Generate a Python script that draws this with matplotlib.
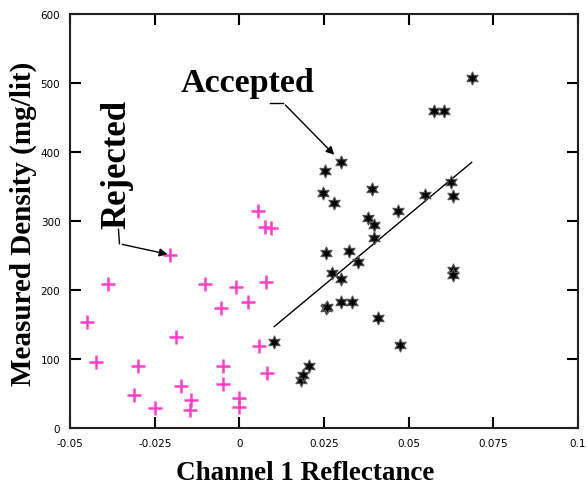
import matplotlib.pyplot as plt

# rejected samples (pink +)
rej_x = [-0.0449, -0.0423, -0.0387, -0.0299, -0.0312, -0.0248, -0.0187, -0.0171, -0.0143,
         -0.0145, -0.0204, -0.0102, -0.0053, -0.0048, -0.0048, -0.0010, 0.0026, 0.0000,
         0.0000, 0.0057, 0.0082, 0.0080, 0.0055, 0.0075, 0.0093]
rej_y = [153, 95, 209, 90, 48, 29, 132, 61, 40, 26, 251, 209, 174, 90, 64, 204, 182, 43,
         31, 119, 79, 211, 314, 292, 290]

# accepted samples (black stars)
acc_x = [0.0101, 0.0182, 0.0188, 0.0206, 0.0256, 0.0323, 0.0350, 0.0275, 0.0301, 0.0256,
         0.0258, 0.0301, 0.0332, 0.0408, 0.0473, 0.0632, 0.0632, 0.0399, 0.0688, 0.0575,
         0.0603, 0.0301, 0.0254, 0.0247, 0.0280, 0.0391, 0.0467, 0.0549, 0.0624, 0.0632,
         0.0381, 0.0398]
acc_y = [124, 70, 77, 90, 254, 256, 240, 224, 216, 174, 175, 182, 182, 159, 121, 229, 222,
         275, 507, 459, 459, 386, 373, 341, 326, 346, 315, 338, 357, 336, 304, 294]

# fitted line
fit_x = [0.0103, 0.0686]
fit_y = [147, 385]

serif = 'Liberation Serif'

fig = plt.figure(figsize=(5.87, 4.89), dpi=100)
ax = fig.add_axes([0.1193, 0.1227, 0.8654, 0.8466])

ax.scatter(rej_x, rej_y, marker='+', s=90, color='#ff3fc8', linewidths=1.8, zorder=3)
ax.scatter(acc_x, acc_y, marker=(6, 1, 0), s=85, color='black', edgecolors='#555555',
           linewidths=0.9, zorder=3)
ax.plot(fit_x, fit_y, color='black', lw=1.0, zorder=2)

ax.set_xlim(-0.05, 0.1)
ax.set_ylim(0, 600)
ax.set_xticks([-0.05, -0.025, 0, 0.025, 0.05, 0.075, 0.1])
ax.set_xticklabels(['-0.05', '-0.025', '0', '0.025', '0.05', '0.075', '0.1'])
ax.set_yticks([0, 100, 200, 300, 400, 500, 600])
ax.tick_params(direction='in', length=8, width=1.5, top=True, right=True,
               labelsize=7.5, pad=7)
for s in ax.spines.values():
    s.set_linewidth(1.5)
    s.set_color('#222222')

ax.set_xlabel('Channel 1 Reflectance', fontfamily=serif, fontweight='bold', fontsize=19.5)
ax.xaxis.label.set(ha='center', va='baseline')
ax.xaxis.set_label_coords(0.4626, -0.123)
ax.set_ylabel('Measured Density (mg/lit)', fontfamily=serif, fontweight='bold', fontsize=21)
ax.yaxis.label.set(ha='center', va='center')
ax.yaxis.set_label_coords(-0.0925, 0.496)

# annotations
ax.text(0.0025, 488, 'Accepted', fontfamily=serif, fontweight='bold', fontsize=24.5,
        ha='center', va='baseline')
ax.plot([0.0091, 0.0130], [471, 471], color='black', lw=1)
ax.annotate('', xy=(0.0286, 393), xytext=(0.0130, 471),
            arrowprops=dict(arrowstyle='-|>', color='black', lw=1, mutation_scale=12))

ax.text(-0.0362, 383, 'Rejected', fontfamily=serif, fontweight='bold', fontsize=25,
        rotation=90, ha='center', va='center')
ax.plot([-0.0357, -0.0354], [288, 267], color='black', lw=1)
ax.annotate('', xy=(-0.0204, 251), xytext=(-0.0354, 267),
            arrowprops=dict(arrowstyle='-|>', color='black', lw=1, mutation_scale=12))

fig.savefig('out.png', dpi=100)
